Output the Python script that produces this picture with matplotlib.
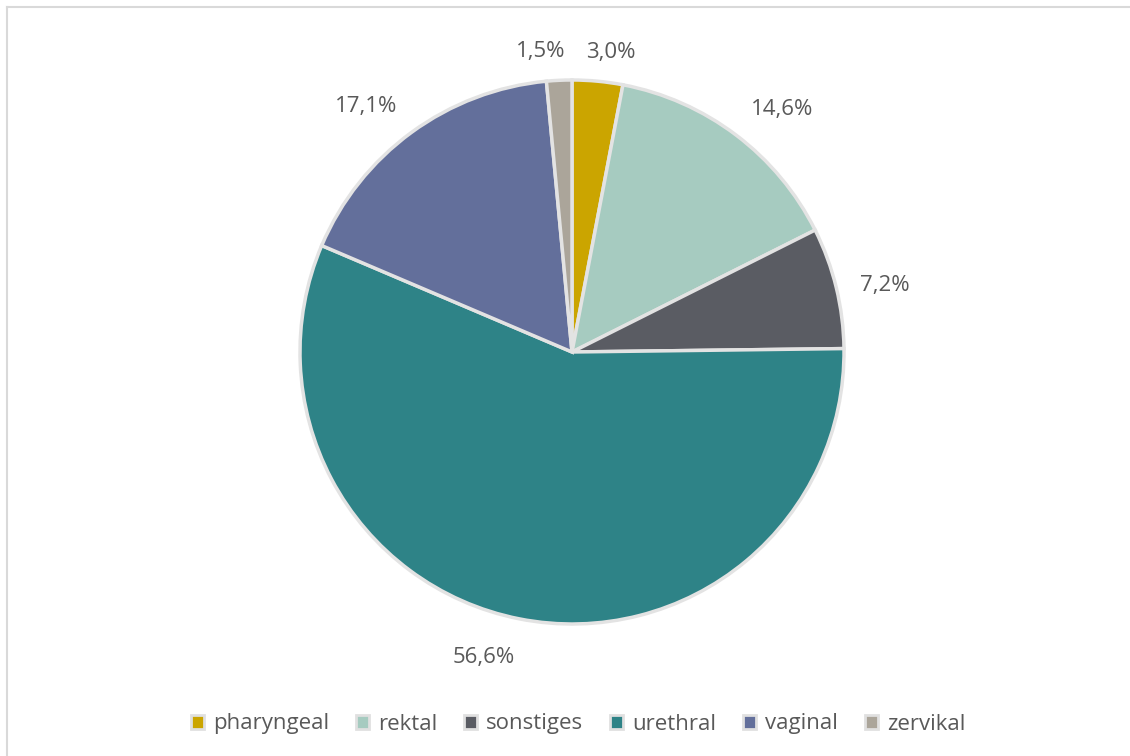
import matplotlib
matplotlib.use('Agg')
import matplotlib.pyplot as plt
import numpy as np
from matplotlib.patches import Patch
from matplotlib.lines import Line2D

categories = ['pharyngeal', 'rektal', 'sonstiges', 'urethral', 'vaginal', 'zervikal']
shares = [3.0, 14.6, 7.2, 56.6, 17.1, 1.5]
colors = ['#cba500', '#a6cbc0', '#5a5c63', '#2e8387', '#636f9b', '#aba59a']

plt.rcParams['font.family'] = ['Open Sans', 'DejaVu Sans']
text_color = '#595959'

fig = plt.figure(figsize=(11.3, 7.56), dpi=100)
W, H = 1130, 756
cx, cy, r = 572, 352, 272
ax = fig.add_axes([(cx - r) / W, (H - cy - r) / H, 2 * r / W, 2 * r / H])

wedges, _ = ax.pie(shares, colors=colors, startangle=90, counterclock=False,
                   radius=1, wedgeprops=dict(edgecolor='#e3e3e3', linewidth=2.5))
ax.set_xlim(-1, 1)
ax.set_ylim(-1, 1)
ax.set_aspect('equal')
ax.axis('off')

# outside-end labels: box corner touches a point just outside the rim
d = 1.09
for w, v in zip(wedges, shares):
    ang = np.deg2rad((w.theta1 + w.theta2) / 2)
    x, y = d * np.cos(ang), d * np.sin(ang) - 0.015
    ha = 'left' if x > 0 else 'right'
    va = 'bottom' if y > 0.5 * d else ('top' if y < -0.5 * d else 'center')
    if v < 5:
        x *= 0.5
        y -= 0.008
    ax.text(x, y, f'{v:.1f}'.replace('.', ',') + '%', ha=ha, va=va,
            fontsize=16, color=text_color)

handles = [Patch(facecolor=c, edgecolor='#e0e0e0', linewidth=2) for c in colors]
fig.legend(handles, categories, loc='center', bbox_to_anchor=(578 / W, 1 - 724 / H),
           ncol=6, frameon=False, fontsize=16, handlelength=0.6, handleheight=0.6,
           handletextpad=0.4, columnspacing=1.2, labelcolor=text_color)

# light frame at top and left
fig.add_artist(Line2D([6.5 / W, 1], [1 - 6.5 / H, 1 - 6.5 / H], color='#d9d9d9', lw=1.5))
fig.add_artist(Line2D([6.5 / W, 6.5 / W], [0, 1 - 6.5 / H], color='#d9d9d9', lw=1.5))

fig.savefig('out.png', dpi=100)
